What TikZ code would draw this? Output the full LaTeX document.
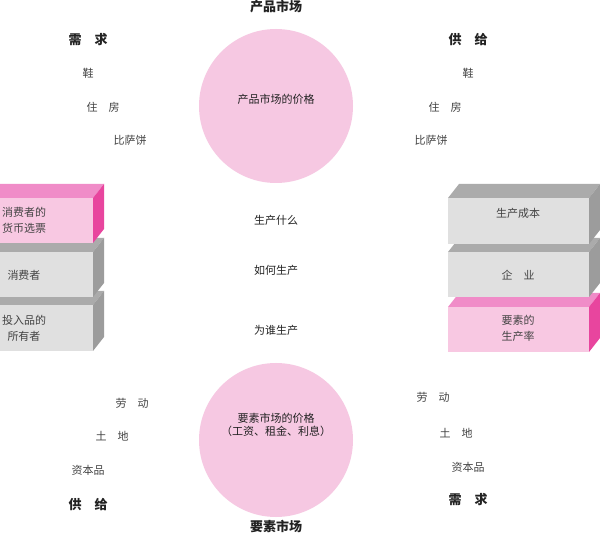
\documentclass[tikz,border=0pt]{standalone}
\usepackage{fontspec}
\setmainfont{Noto Sans CJK SC}
\newfontfamily\cjk{Noto Sans CJK SC}
\definecolor{circpink}{HTML}{F6C8E2}
\definecolor{pinkfront}{HTML}{F8C8E2}
\definecolor{pinktop}{HTML}{F08CC8}
\definecolor{pinkside}{HTML}{E8459E}
\definecolor{grayfront}{HTML}{E0E0E0}
\definecolor{graytop}{HTML}{ABABAB}
\definecolor{grayside}{HTML}{9C9C9C}
\definecolor{txt}{HTML}{222222}
\tikzset{
  head/.style={font=\cjk\bfseries\fontsize{13}{15}\selectfont, text=txt, inner sep=0pt},
  item/.style={font=\cjk\fontsize{11}{13}\selectfont, text=txt!85, inner sep=0pt},
  mid/.style={font=\cjk\fontsize{11}{13}\selectfont, text=txt, inner sep=0pt, align=center},
  boxtext/.style={font=\cjk\fontsize{11}{16}\selectfont, text=txt!85, inner sep=0pt, align=center},
  market/.style={circle, fill=circpink, minimum size=154pt, inner sep=0pt}
}
% x1 y1 x2 y2 front top side
\newcommand\mybox[7]{%
  \fill[#5] (#1,#2) rectangle (#3,#4);
  \fill[#6] (#1,#2) -- (#1+11,#2-14) -- (#3+11,#2-14) -- (#3,#2) -- cycle;
  \fill[#7] (#3,#2) -- (#3+11,#2-14) -- (#3+11,#4-14) -- (#3,#4) -- cycle;
}
\begin{document}
\begin{tikzpicture}[x=1pt,y=-1pt]
\useasboundingbox (0,0) rectangle (600,534);
\clip (0,0) rectangle (600,534);
\fill[white] (0,0) rectangle (600,534);

% circles
\node[market] (pm) at (276,106) {};
\node[market] (fm) at (276,440) {};
\node[mid] (pmt) at (276,99) {产品市场的价格};
\node[mid] (fmt) at (276,425) {要素市场的价格\\（工资、租金、利息）};
\node[head] (pmlab) at (276,7) {产品市场};
\node[head] (fmlab) at (276,526) {要素市场};

% left boxes
\mybox{-47}{305}{93}{351}{grayfront}{graytop}{grayside}
\mybox{-47}{252}{93}{297}{grayfront}{graytop}{grayside}
\mybox{-47}{198}{93}{243}{pinkfront}{pinktop}{pinkside}
\node[boxtext] (l1) at (24,220) {消费者的\\货币选票};
\node[boxtext] (l2) at (24,275) {消费者};
\node[boxtext] (l3) at (24,328) {投入品的\\所有者};

% right boxes
\mybox{448}{307}{589}{352}{pinkfront}{pinktop}{pinkside}
\mybox{448}{252}{589}{297}{grayfront}{graytop}{grayside}
\mybox{448}{198}{589}{244}{grayfront}{graytop}{grayside}
\node[boxtext] (r1) at (518,213) {生产成本};
\node[boxtext] (r2) at (518,275) {企\quad 业};
\node[boxtext] (r3) at (518,328) {要素的\\生产率};

% middle
\node[mid] (m1) at (276,220) {生产什么};
\node[mid] (m2) at (276,270) {如何生产};
\node[mid] (m3) at (276,330) {为谁生产};

% top left
\node[head] (tl) at (88,40) {需\quad 求};
\node[item] (tl1) at (88,73) {鞋};
\node[item] (tl2) at (103,107) {住\quad 房};
\node[item] (tl3) at (130,140) {比萨饼};
% top right
\node[head] (tr) at (468,40) {供\quad 给};
\node[item] (tr1) at (468,73) {鞋};
\node[item] (tr2) at (445,107) {住\quad 房};
\node[item] (tr3) at (431,140) {比萨饼};
% bottom left
\node[item] (bl1) at (132,403) {劳\quad 动};
\node[item] (bl2) at (112,436) {土\quad 地};
\node[item] (bl3) at (88,470) {资本品};
\node[head] (bl) at (88,505) {供\quad 给};
% bottom right
\node[item] (br1) at (433,397) {劳\quad 动};
\node[item] (br2) at (456,433) {土\quad 地};
\node[item] (br3) at (468,467) {资本品};
\node[head] (br) at (468,500) {需\quad 求};
\end{tikzpicture}
\end{document}
